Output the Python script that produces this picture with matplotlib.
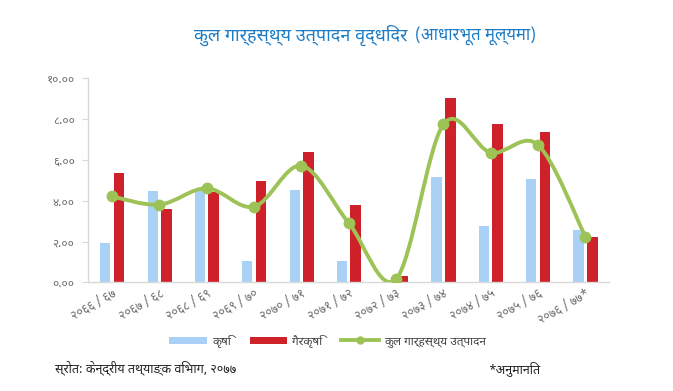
import matplotlib
matplotlib.use("Agg")
import matplotlib.pyplot as plt
import numpy as np
from matplotlib.path import Path
from matplotlib.patches import PathPatch
from matplotlib.lines import Line2D
from matplotlib.patches import Patch

plt.rcParams['font.family'] = ['Noto Sans Devanagari', 'DejaVu Sans']

# ---- data ----
years = ["२०६६ / ६७", "२०६७ / ६८", "२०६८ / ६९", "२०६९ / ७०", "२०७० / ७१", "२०७१ / ७२",
         "२०७२ / ७३", "२०७३ / ७४", "२०७४ / ७५", "२०७५ / ७६", "२०७६ / ७७*"]
agri = [1.95, 4.45, 4.55, 1.05, 4.50, 1.05, 0.02, 5.15, 2.75, 5.05, 2.55]
nonagri = [5.35, 3.58, 4.40, 4.95, 6.37, 3.80, 0.34, 8.99, 7.72, 7.33, 2.22]
gdp = [4.20, 3.80, 4.60, 3.70, 5.70, 2.90, 0.17, 7.72, 6.34, 6.71, 2.24]
yticks = [0, 2, 4, 6, 8, 10]
yticklabels = ["०.००", "२.००", "४.००", "६.००", "८.००", "१०.००"]
legend_labels = ["कृषि", "गैरकृषि", "कुल गार्हस्थ्य उत्पादन"]
title_main = "कुल गार्हस्थ्य उत्पादन वृद्धिदर"
title_sub = "(आधारभूत मूल्यमा)"
source = "स्रोत: केन्द्रीय तथ्याङ्क विभाग, २०७७"
note = "*अनुमानित"

C_BLUE = "#A9D1F5"
C_RED = "#CF2129"
C_GREEN = "#9DC356"
C_TITLE = "#1C7CC6"

fig = plt.figure(figsize=(6.73, 3.91), dpi=100)
ax = fig.add_axes([0.1315, 0.2775, 0.7735, 0.524])

x = np.arange(len(years))
ax.bar(x - 0.145, agri, width=0.215, color=C_BLUE, zorder=2)
ax.bar(x + 0.145, nonagri, width=0.225, color=C_RED, zorder=2)

# smoothed line (Catmull-Rom -> cubic Bezier), drawn through the data points
pts = np.column_stack([x, gdp]).astype(float)
verts = [tuple(pts[0])]
codes = [Path.MOVETO]
n = len(pts)
for i in range(n - 1):
    p0 = pts[i - 1] if i > 0 else pts[i]
    p1 = pts[i]
    p2 = pts[i + 1]
    p3 = pts[i + 2] if i + 2 < n else pts[i + 1]
    c1 = p1 + (p2 - p0) / 6.0
    c2 = p2 - (p3 - p1) / 6.0
    verts += [tuple(c1), tuple(c2), tuple(p2)]
    codes += [Path.CURVE4] * 3
ax.add_patch(PathPatch(Path(verts, codes), facecolor='none', edgecolor=C_GREEN,
                       lw=2.8, zorder=3, capstyle='round', joinstyle='round'))
ax.plot(x, gdp, linestyle='none', marker='o', ms=7.5, color=C_GREEN, zorder=4)

ax.set_xlim(-0.5, len(years) - 0.5)
ax.set_ylim(0, 10)
ax.set_yticks(yticks)
ax.set_yticklabels(yticklabels, fontsize=8.5, color="#6B6B6B")
ax.set_xticks(x)
ax.set_xticklabels(years, fontsize=8.8, color="#6B6B6B", rotation=30,
                   ha='right', rotation_mode='anchor')
ax.tick_params(axis='y', length=4, color="#D9D9D9", pad=6)
ax.tick_params(axis='x', length=0, pad=3)
for s in ['top', 'right']:
    ax.spines[s].set_visible(False)
for s in ['left', 'bottom']:
    ax.spines[s].set_color("#D9D9D9")
    ax.spines[s].set_linewidth(1.0)

# title
fig.text(0.605, 0.91, title_main, fontsize=13, color=C_TITLE, ha='right', va='center')
fig.text(0.616, 0.91, title_sub, fontsize=12, color=C_TITLE, ha='left', va='center')

# legend
handles = [Patch(facecolor=C_BLUE), Patch(facecolor=C_RED),
           Line2D([0], [0], color=C_GREEN, lw=2.8, marker='o', ms=5)]
fig.legend(handles, legend_labels, loc='center', bbox_to_anchor=(0.4866, 0.128),
           ncol=3, frameon=False, fontsize=8.5, handlelength=3.2, handleheight=0.6,
           columnspacing=1.6, handletextpad=0.4, labelcolor="#404040")

# footer
fig.text(0.082, 0.058, source, fontsize=9, color="#222222", ha='left', va='center')
fig.text(0.725, 0.058, note, fontsize=9, color="#222222", ha='left', va='center')

fig.savefig("out.png", dpi=100)
